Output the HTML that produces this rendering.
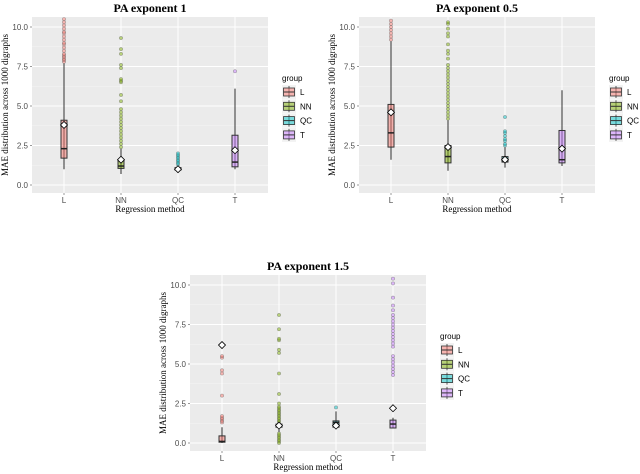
<!DOCTYPE html>
<html><head><meta charset="utf-8"><style>
body{margin:0;background:#fff;width:640px;height:474px;overflow:hidden}
svg{display:block}
.tick{font:8px "Liberation Sans",sans-serif;fill:#4d4d4d}
.ttl{font:bold 12px "Liberation Serif",serif;fill:#000}
.axt{font:9px "Liberation Serif",serif;fill:#000}
.leg{font:8px "Liberation Sans",sans-serif;fill:#000}
</style></head><body>
<svg id="chart" width="640" height="474"></svg>
<script>
const categories = ["L","NN","QC","T"];
const colors = ["#F8766D","#7CAE00","#00BFC4","#C77CFF"];
const yTicks = [0,2.5,5,7.5,10];
const yTickLabels = ["0.0","2.5","5.0","7.5","10.0"];
const titles = ["PA exponent 1","PA exponent 0.5","PA exponent 1.5"];
// each box: [whiskerLow, q1, median, q3, whiskerHigh, mean]
const boxes1 = [[1.0,1.7,2.3,4.1,7.7,3.8],[0.7,1.05,1.2,1.6,2.3,1.6],[0.9,0.95,1.0,1.1,1.2,1.0],[1.0,1.15,1.45,3.15,6.1,2.2]];
const boxes2 = [[1.6,2.4,3.3,5.1,9.1,4.6],[0.9,1.4,1.8,2.5,4.1,2.4],[1.1,1.45,1.6,1.8,2.4,1.6],[1.2,1.4,1.6,3.45,6.0,2.3]];
const boxes3 = [[0.0,0.05,0.1,0.45,1.0,6.2],[0.7,1.0,1.1,1.2,1.25,1.1],[1.0,1.0,1.3,1.4,2.0,1.1],[0.95,0.95,1.2,1.45,1.6,2.2]];
const out1 = [
 [7.8,7.9,8.0,8.1,8.2,8.3,8.5,8.7,8.9,9.0,9.2,9.4,9.6,9.7,9.9,10.1,10.3,10.5],
 [2.4,2.6,2.8,3.0,3.2,3.4,3.6,3.8,4.0,4.2,4.4,4.6,4.8,5.3,5.7,6.5,6.6,6.7,7.4,7.6,8.3,8.6,9.3],
 [1.3,1.4,1.5,1.6,1.7,1.8,1.9,2.0],
 [7.2]];
const out2 = [
 [9.2,9.4,9.6,9.8,10.0,10.2,10.4],
 [4.2,4.4,4.6,4.8,5.0,5.2,5.4,5.6,5.8,6.0,6.2,6.4,6.6,6.8,7.0,7.2,7.4,7.6,8.0,8.3,8.5,8.9,9.4,9.6,9.9,10.2,10.3],
 [2.5,2.6,2.8,2.9,3.1,3.3,3.4,4.3],
 []];
const out3 = [
 [1.3,1.4,1.5,1.6,1.7,3.0,4.4,4.6,5.4,5.5],
 [0.0,0.1,0.2,0.3,0.4,0.5,0.6,1.3,1.4,1.5,1.6,1.7,1.8,1.9,2.0,2.1,2.2,2.3,2.5,3.1,4.4,5.7,5.9,6.5,6.6,7.2,8.1],
 [2.25],
 [4.3,4.5,4.7,4.9,5.1,5.3,5.5,6.1,6.3,6.5,6.7,6.9,7.1,7.3,7.5,7.7,7.9,8.1,8.4,8.7,9.2,10.1,10.4]];
const panelsBoxes=[boxes1,boxes2,boxes3];
const panelsOut=[out1,out2,out3];
const panelPos=[[32,17],[359,17],[190,275]];

const NS="http://www.w3.org/2000/svg";
const svg=document.getElementById('chart');
function mk(tag,attrs,parent){const e=document.createElementNS(NS,tag);for(const k in attrs)e.setAttribute(k,attrs[k]);(parent||svg).appendChild(e);return e;}
const PW=236, PH=176;
panelPos.forEach((pp,pi)=>{
 const L=pp[0],T=pp[1];
 const g=mk('g',{});
 
 
 const y=v=>T+168-v*15.8;
 const x=i=>L+32+57*i;
 const bg=mk('rect',{x:L,y:T,width:PW,height:PH,fill:'#ebebeb'},g);
 
 
 for(let v=1.25;v<11;v+=2.5){const yy=y(v);if(yy>T)mk('line',{x1:L,x2:L+PW,y1:yy,y2:yy,stroke:'#f5f5f5','stroke-width':0.5},g);}
 yTicks.forEach((v,k)=>{
  mk('line',{x1:L,x2:L+PW,y1:y(v),y2:y(v),stroke:'#fff','stroke-width':1},g);
  mk('line',{x1:L-2,x2:L,y1:y(v),y2:y(v),stroke:'#333','stroke-width':0.5},g);
  const t=mk('text',{x:L-4,y:y(v)+3,'text-anchor':'end',class:'tick'},g);t.textContent=yTickLabels[k];
  
  
 });
 categories.forEach((c,i)=>{
  mk('line',{x1:x(i),x2:x(i),y1:T,y2:T+PH,stroke:'#fff','stroke-width':1},g);
  mk('line',{x1:x(i),x2:x(i),y1:T+PH,y2:T+PH+2,stroke:'#333','stroke-width':0.5},g);
  const t=mk('text',{x:x(i),y:T+PH+10,'text-anchor':'middle',class:'tick'},g);t.textContent=c;
  
  
 });
 const clip=mk('clipPath',{id:'clip'+pi},g);mk('rect',{x:L,y:T,width:PW,height:PH},clip);
 const gg=mk('g',{'clip-path':'url(#clip'+pi+')'},g);
 categories.forEach((c,i)=>{
  const b=panelsBoxes[pi][i],cx=x(i),w=6;
  const bx=mk('g',{},gg);
  
  
  mk('line',{x1:cx,x2:cx,y1:y(b[0]),y2:y(b[4]),stroke:'#333','stroke-width':1},bx);
  mk('rect',{x:cx-w/2,y:y(b[3]),width:w,height:Math.max(1,y(b[1])-y(b[3])),fill:colors[i],'fill-opacity':0.5,stroke:'#333','stroke-width':1},bx);
  mk('line',{x1:cx-w/2,x2:cx+w/2,y1:y(b[2]),y2:y(b[2]),stroke:'#222','stroke-width':1.5},bx);
  panelsOut[pi][i].forEach(v=>{
   const p=mk('circle',{cx:cx,cy:y(v),r:1.6,fill:colors[i],'fill-opacity':0.5,stroke:'#555','stroke-opacity':0.5,'stroke-width':0.6},bx);
   
   
  });
  const m=b[5],my=y(m);
  const d=mk('polygon',{points:`${cx},${my-3.5} ${cx+3.5},${my} ${cx},${my+3.5} ${cx-3.5},${my}`,fill:'#fff',stroke:'#000','stroke-width':0.8},bx);
  
  
 });
 const ti=mk('text',{x:L+PW/2,y:T-5,'text-anchor':'middle',class:'ttl'},g);ti.textContent=titles[pi];
 
 
 const xt=mk('text',{x:L+PW/2,y:T+PH+19,'text-anchor':'middle',class:'axt'},g);xt.textContent='Regression method';
 
 
 const yt=mk('text',{x:0,y:0,'text-anchor':'middle',class:'axt',transform:`translate(${L-24},${T+PH/2}) rotate(-90)`},g);yt.textContent='MAE distribution across 1000 digraphs';
 
 
 const lg=mk('g',{},g);
 
 
 const lx=L+PW+14;
 const gt=mk('text',{x:lx,y:T+64,class:'leg','font-size':'9'},lg);gt.textContent='group';
 categories.forEach((c,i)=>{
  const cy=T+75+14.3*i;
  const e=mk('g',{},lg);
  
  
  mk('rect',{x:lx,y:cy-7,width:14,height:14,fill:'#f2f2f2'},e);
  mk('line',{x1:lx+7,x2:lx+7,y1:cy-6,y2:cy+6,stroke:'#333','stroke-width':0.8},e);
  mk('rect',{x:lx+1.5,y:cy-4,width:11,height:8,fill:colors[i],'fill-opacity':0.5,stroke:'#333','stroke-width':0.8},e);
  mk('line',{x1:lx+1.5,x2:lx+12.5,y1:cy,y2:cy,stroke:'#333','stroke-width':1},e);
  const lt=mk('text',{x:lx+18,y:cy+3,class:'leg'},e);lt.textContent=c;
 });
});
</script>
</body></html>
